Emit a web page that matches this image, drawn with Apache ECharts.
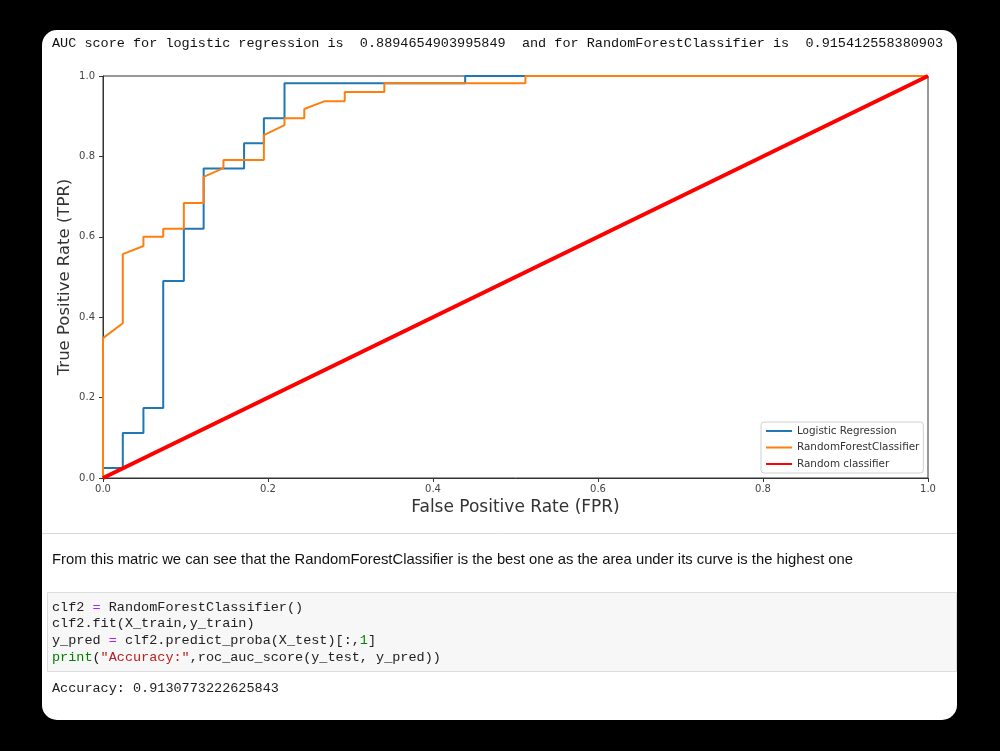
<!DOCTYPE html>
<html>
<head>
<meta charset="utf-8">
<script src="https://cdn.jsdelivr.net/npm/echarts@6/dist/echarts.min.js"></script>
<style>
html,body{margin:0;padding:0;background:#000;}
#c{width:1000px;height:751px;}
</style>
</head>
<body>
<div id="c"></div>
<script>
// ---- data ----
const lrFpr = [0, 0, 0.024, 0.024, 0.049, 0.049, 0.073, 0.073, 0.098, 0.098, 0.122, 0.122, 0.171, 0.171, 0.195, 0.195, 0.220, 0.220, 0.439, 0.439, 1];
const lrTpr = [0, 0.025, 0.025, 0.112, 0.112, 0.174, 0.174, 0.490, 0.490, 0.620, 0.620, 0.770, 0.770, 0.833, 0.833, 0.895, 0.895, 0.982, 0.982, 1, 1];
const rfFpr = [0, 0, 0.024, 0.024, 0.049, 0.049, 0.073, 0.073, 0.098, 0.098, 0.122, 0.122, 0.146, 0.146, 0.195, 0.195, 0.220, 0.220, 0.244, 0.244, 0.268, 0.293, 0.293, 0.341, 0.341, 0.512, 0.512, 1];
const rfTpr = [0, 0.348, 0.385, 0.557, 0.577, 0.600, 0.600, 0.620, 0.620, 0.684, 0.684, 0.749, 0.771, 0.791, 0.791, 0.853, 0.878, 0.895, 0.895, 0.918, 0.937, 0.937, 0.960, 0.960, 0.982, 0.982, 1, 1];
const rndFpr = [0, 1];
const rndTpr = [0, 1];
const seriesNames = ['Logistic Regression', 'RandomForestClassifier', 'Random classifier'];
const headerText = 'AUC score for logistic regression is  0.8894654903995849  and for RandomForestClassifier is  0.915412558380903';
const noteText = 'From this matric we can see that the RandomForestClassifier is the best one as the area under its curve is the highest one';
const outputText = 'Accuracy: 0.9130773222625843';

const pairs = (xs, ys) => xs.map((x, i) => [x, ys[i]]);

const chart = echarts.init(document.getElementById('c'), null, {renderer: 'canvas'});
const mono = "'Liberation Mono', 'DejaVu Sans Mono', monospace";
const codeRich = {
  n: {fontFamily: mono, fontSize: 13.5, fill: '#222'},
  o: {fontFamily: mono, fontSize: 13.5, fill: '#aa22ff'},
  g: {fontFamily: mono, fontSize: 13.5, fill: '#008000'},
  s: {fontFamily: mono, fontSize: 13.5, fill: '#ba2121'},
  m: {fontFamily: mono, fontSize: 13.5, fill: '#008800'}
};
const codeLines = [
  '{n|clf2 }{o|=}{n| RandomForestClassifier()}',
  '{n|clf2.fit(X_train,y_train)}',
  '{n|y_pred }{o|=}{n| clf2.predict_proba(X_test)[:,}{m|1}{n|]}',
  '{g|print}{n|(}{s|"Accuracy:"}{n|,roc_auc_score(y_test, y_pred))}'
];
const codeY = [607, 623, 640, 657];

const graphics = [
  {type: 'rect', z: -10, shape: {x: 42, y: 30, width: 915, height: 690, r: 15}, style: {fill: '#fff'}},
  {type: 'text', x: 52, y: 43, style: {text: headerText, font: "13.5px 'Liberation Mono', monospace", fill: '#111', verticalAlign: 'middle'}},
  {type: 'line', shape: {x1: 42, y1: 533.5, x2: 957, y2: 533.5}, style: {stroke: '#d8d8d8', lineWidth: 1}},
  {type: 'text', x: 52, y: 560, style: {text: noteText, font: "14.8px 'Liberation Sans', Arial, sans-serif", fill: '#111', verticalAlign: 'middle'}},
  {type: 'rect', z: -5, shape: {x: 47.5, y: 592.5, width: 909, height: 79}, style: {fill: '#f7f7f7', stroke: '#dcdcdc', lineWidth: 1}},
  {type: 'text', x: 52, y: 688, style: {text: outputText, font: "13.5px 'Liberation Mono', monospace", fill: '#222', verticalAlign: 'middle'}}
];
codeLines.forEach((t, i) => {
  graphics.push({type: 'text', x: 52, y: codeY[i], style: {text: t, rich: codeRich, verticalAlign: 'middle'}});
});

const axisCommon = {
  type: 'value', min: 0, max: 1, interval: 0.2,
  axisLine: {show: true, lineStyle: {color: '#333', width: 1}},
  axisTick: {show: true, inside: false, length: 4, lineStyle: {color: '#333'}},
  axisLabel: {color: '#444', fontSize: 10, fontFamily: 'DejaVu Sans', formatter: v => v.toFixed(1)},
  splitLine: {show: false},
  nameLocation: 'middle',
  nameMoveOverlap: false,
  nameTextStyle: {color: '#333', fontSize: 17, fontFamily: 'DejaVu Sans'}
};

chart.setOption({
  backgroundColor: '#000',
  animation: false,
  graphic: graphics,
  grid: {left: 103, top: 76, right: 72, bottom: 273, show: true, borderColor: '#333', borderWidth: 1, backgroundColor: '#fff'},
  xAxis: Object.assign({}, axisCommon, {
    name: 'False Positive Rate (FPR)', nameGap: 21,
    axisLabel: Object.assign({}, axisCommon.axisLabel, {margin: 6})
  }),
  yAxis: Object.assign({}, axisCommon, {
    name: 'True Positive Rate (TPR)', nameGap: 30,
    nameTextStyle: {color: '#333', fontSize: 16.5, fontFamily: 'DejaVu Sans'},
    axisLabel: Object.assign({}, axisCommon.axisLabel, {margin: 8})
  }),
  legend: {
    orient: 'vertical', left: 761, top: 422,
    padding: [4, 4, 4, 4], itemGap: 6.5, itemWidth: 26, itemHeight: 11,
    backgroundColor: '#fff', borderColor: '#d0d0d0', borderWidth: 1, borderRadius: 3,
    textStyle: {fontSize: 10.4, fontFamily: 'DejaVu Sans', color: '#333'},
    itemStyle: {opacity: 0},
    data: seriesNames
  },
  series: [
    {name: seriesNames[0], type: 'line', data: pairs(lrFpr, lrTpr), symbol: 'none', lineStyle: {color: '#1f77b4', width: 2}, itemStyle: {color: '#1f77b4'}},
    {name: seriesNames[1], type: 'line', data: pairs(rfFpr, rfTpr), symbol: 'none', lineStyle: {color: '#ff7f0e', width: 2}, itemStyle: {color: '#ff7f0e'}},
    {name: seriesNames[2], type: 'line', data: pairs(rndFpr, rndTpr), symbol: 'none', lineStyle: {color: '#ff0000', width: 4}, itemStyle: {color: '#ff0000'}}
  ]
});
</script>
</body>
</html>
